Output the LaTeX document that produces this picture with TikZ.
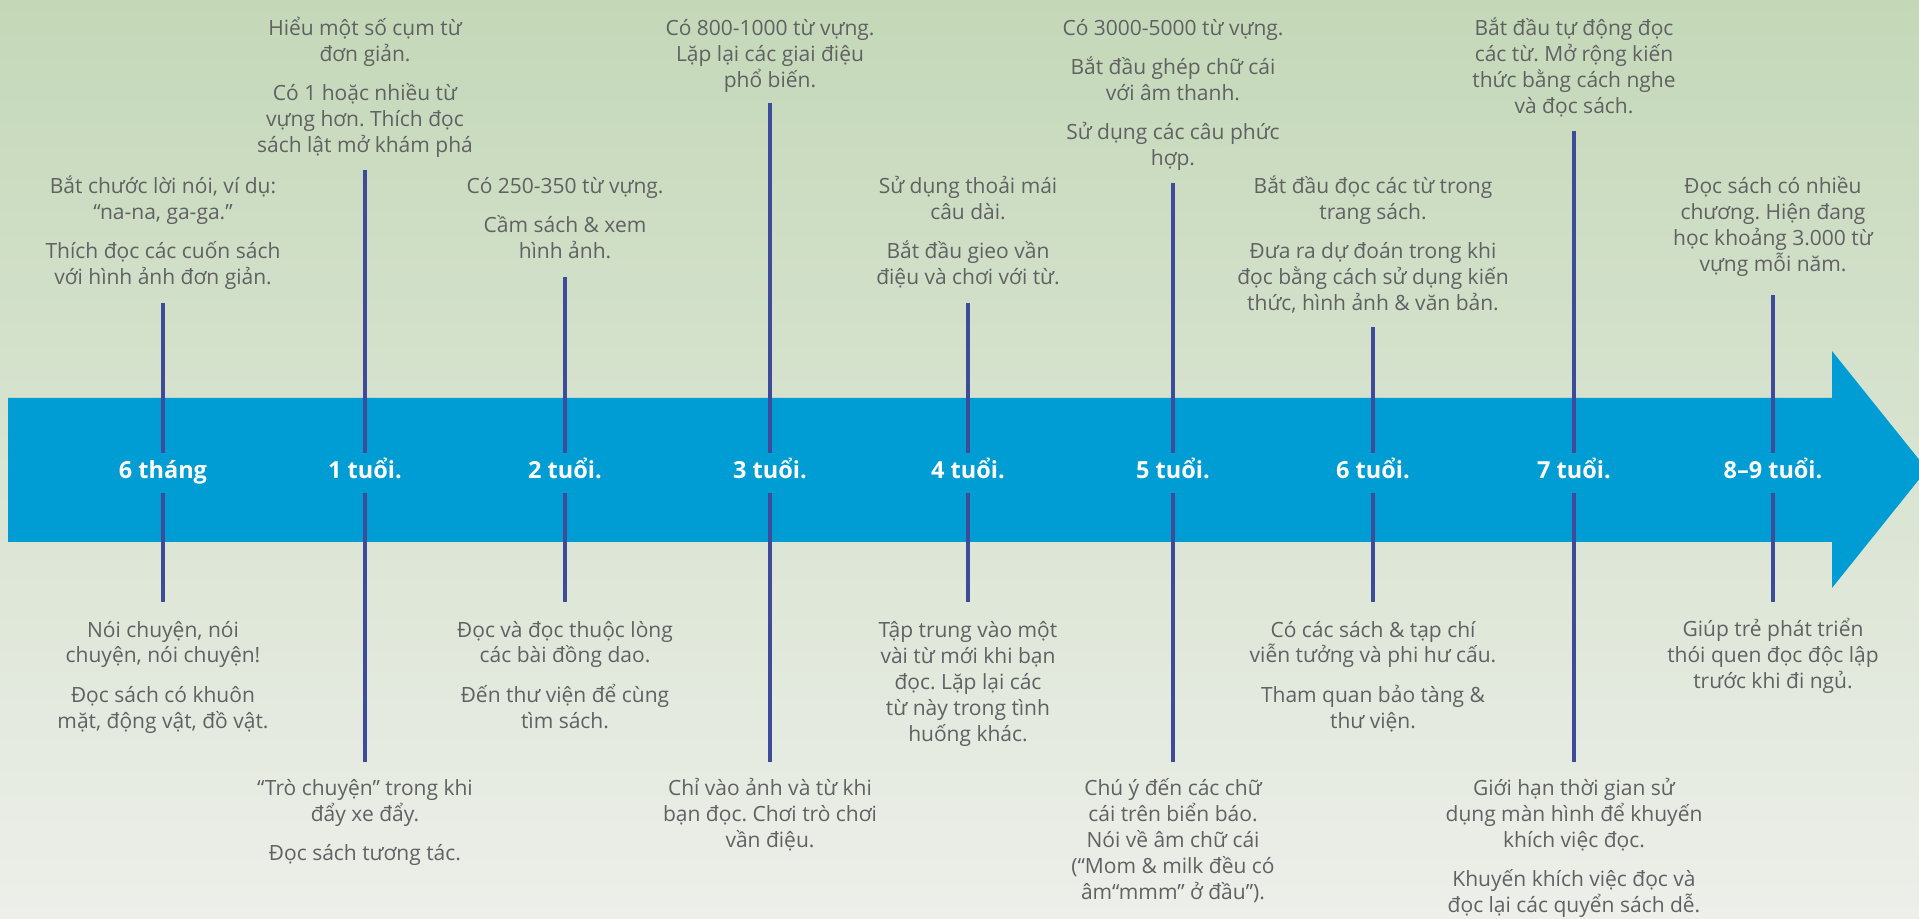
\documentclass[tikz,border=0pt]{standalone}
\usepackage{fontspec}
\setmainfont{Open Sans}
\usepackage{tikz}
\frenchspacing
\definecolor{bartone}{RGB}{0,157,212}
\definecolor{ticktone}{RGB}{62,75,153}
\definecolor{notetone}{RGB}{96,97,99}
\definecolor{bgtop}{RGB}{196,216,184}
\definecolor{bgbottom}{RGB}{237,239,234}

\begin{document}
\begin{tikzpicture}[x = 0.5pt, y = -0.5pt,
    age/.style = {anchor = base, fill = bartone, text = white, inner xsep = 4pt, inner ysep = 0pt,
        text height = 13pt, text depth = 7pt, font = \fontsize{11.75}{14}\selectfont\bfseries},
    note/.style = {anchor = base, align = center, inner sep = 0pt, text = notetone,
        font = \fontsize{10.5}{13}\selectfont},
    tick/.style = {draw = ticktone, line width = 1.6pt}]
\useasboundingbox (0,0) rectangle (1919,919);
\clip (0,0) rectangle (1919,919);
\shade[top color = bgtop, bottom color = bgbottom] (0,0) rectangle (1919,919);
% the big arrow
\fill[bartone] (8,398) -- (1832,398) -- (1832,351) -- (1927,469.5) -- (1832,588) -- (1832,542) -- (8,542) -- cycle;
% ages on the arrow
\draw (163,479) node[age](a1){6 tháng}
    (365,479) node[age](a2){1 tuổi.}
    (565,479) node[age](a3){2 tuổi.}
    (770,479) node[age](a4){3 tuổi.}
    (968,479) node[age](a5){4 tuổi.}
    (1173,479) node[age](a6){5 tuổi.}
    (1373,479) node[age](a7){6 tuổi.}
    (1574,479) node[age](a8){7 tuổi.}
    (1773,479) node[age](a9){8–9 tuổi.};
% ends of the ticks
\coordinate (u1) at (163,303);  \coordinate (d1) at (163,602);
\coordinate (u2) at (365,170);  \coordinate (d2) at (365,762);
\coordinate (u3) at (565,277);  \coordinate (d3) at (565,602);
\coordinate (u4) at (770,103);  \coordinate (d4) at (770,762);
\coordinate (u5) at (968,303);  \coordinate (d5) at (968,602);
\coordinate (u6) at (1173,183); \coordinate (d6) at (1173,762);
\coordinate (u7) at (1373,327); \coordinate (d7) at (1373,602);
\coordinate (u8) at (1574,131); \coordinate (d8) at (1574,762);
\coordinate (u9) at (1773,295); \coordinate (d9) at (1773,602);
\draw[tick] (u1) -- (a1) -- (d1);
\draw[tick] (u2) -- (a2) -- (d2);
\draw[tick] (u3) -- (a3) -- (d3);
\draw[tick] (u4) -- (a4) -- (d4);
\draw[tick] (u5) -- (a5) -- (d5);
\draw[tick] (u6) -- (a6) -- (d6);
\draw[tick] (u7) -- (a7) -- (d7);
\draw[tick] (u8) -- (a8) -- (d8);
\draw[tick] (u9) -- (a9) -- (d9);
% notes above (placed by their last line)
\node[note] (n1) at (163,285) {Bắt chước lời nói, ví dụ:\\“na-na, ga-ga.”\\[6.5pt]Thích đọc các cuốn sách\\với hình ảnh đơn giản.};
\node[note] (n2) at (365,153) {Hiểu một số cụm từ\\đơn giản.\\[6.5pt]Có 1 hoặc nhiều từ\\vựng hơn. Thích đọc\\sách lật mở khám phá};
\node[note] (n3) at (565,259) {Có 250-350 từ vựng.\\[6.5pt]Cầm sách \& xem\\hình ảnh.};
\node[note] (n4) at (770,88) {Có 800-1000 từ vựng.\\Lặp lại các giai điệu\\phổ biến.};
\node[note] (n5) at (968,285) {Sử dụng thoải mái\\câu dài.\\[6.5pt]Bắt đầu gieo vần\\điệu và chơi với từ.};
\node[note] (n6) at (1173,166) {Có 3000-5000 từ vựng.\\[6.5pt]Bắt đầu ghép chữ cái\\với âm thanh.\\[6.5pt]Sử dụng các câu phức\\hợp.};
\node[note] (n7) at (1373,311) {Bắt đầu đọc các từ trong\\trang sách.\\[6.5pt]Đưa ra dự đoán trong khi\\đọc bằng cách sử dụng kiến\\thức, hình ảnh \& văn bản.};
\node[note] (n8) at (1574,114) {Bắt đầu tự động đọc\\các từ. Mở rộng kiến\\thức bằng cách nghe\\và đọc sách.};
\node[note] (n9) at (1773,272) {Đọc sách có nhiều\\chương. Hiện đang\\học khoảng 3.000 từ\\vựng mỗi năm.};
% notes below (placed by their last line)
\node[note] (m1) at (163,728) {Nói chuyện, nói\\chuyện, nói chuyện!\\[6.5pt]Đọc sách có khuôn\\mặt, động vật, đồ vật.};
\node[note] (m2) at (365,860) {“Trò chuyện” trong khi\\đẩy xe đẩy.\\[6.5pt]Đọc sách tương tác.};
\node[note] (m3) at (565,728) {Đọc và đọc thuộc lòng\\các bài đồng dao.\\[6.5pt]Đến thư viện để cùng\\tìm sách.};
\node[note] (m4) at (770,847) {Chỉ vào ảnh và từ khi\\bạn đọc. Chơi trò chơi\\vần điệu.};
\node[note] (m5) at (968,741) {Tập trung vào một\\vài từ mới khi bạn\\đọc. Lặp lại các\\từ này trong tình\\huống khác.};
\node[note] (m6) at (1173,899) {Chú ý đến các chữ\\cái trên biển báo.\\Nói về âm chữ cái\\(“Mom \& milk đều có\\âm“mmm” ở đầu”).};
\node[note] (m7) at (1373,728) {Có các sách \& tạp chí\\viễn tưởng và phi hư cấu.\\[6.5pt]Tham quan bảo tàng \&\\thư viện.};
\node[note] (m8) at (1574,912) {Giới hạn thời gian sử\\dụng màn hình để khuyến\\khích việc đọc.\\[6.5pt]Khuyến khích việc đọc và\\đọc lại các quyển sách dễ.};
\node[note] (m9) at (1773,689) {Giúp trẻ phát triển\\thói quen đọc độc lập\\trước khi đi ngủ.};
\end{tikzpicture}
\end{document}
